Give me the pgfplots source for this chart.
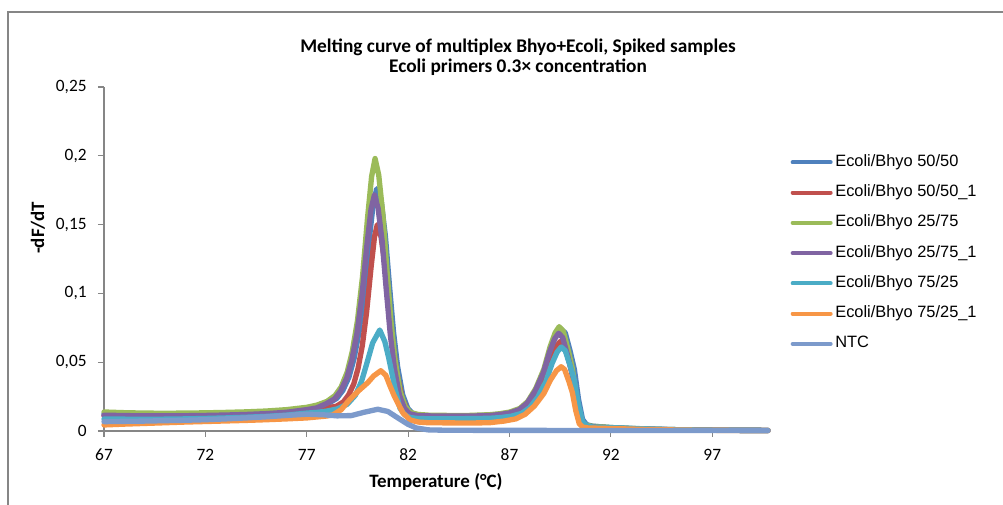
\documentclass[border=0pt]{standalone}
\usepackage{fontspec}
\setmainfont{Carlito}
\newfontfamily\legfont{Liberation Sans}
\usepackage{pgfplots}
\pgfplotsset{compat=1.18}

\definecolor{sblue}{HTML}{4F81BD}
\definecolor{sred}{HTML}{C0504D}
\definecolor{sgreen}{HTML}{9BBB59}
\definecolor{spurple}{HTML}{8064A2}
\definecolor{scyan}{HTML}{4BACC6}
\definecolor{sorange}{HTML}{F79646}
\definecolor{sntc}{HTML}{7C9ACB}
\definecolor{axisgray}{HTML}{868686}

\begin{document}
\begin{tikzpicture}
\useasboundingbox (0,0) rectangle (752.25pt,378.75pt);
\draw[axisgray, line width=0.9pt] (6pt,0pt) -- (6pt,369.75pt) -- (752.25pt,369.75pt);
\begin{axis}[
    at={(78pt,55.5pt)}, anchor=south west,
    scale only axis, width=498pt, height=258pt,
    xmin=67, xmax=99.75, ymin=0, ymax=0.25,
    xtick={67,72,77,82,87,92,97},
    ytick={0,0.05,0.1,0.15,0.2,0.25},
    axis lines*=left,
    axis line style={axisgray, line width=0.9pt},
    tick style={axisgray, line width=0.9pt},
    tick align=outside, major tick length=4.5pt,
    /pgf/number format/assume math mode=true,
    /pgf/number format/use comma,
    /pgf/number format/fixed,
    /pgf/number format/precision=2,
    tick label style={font=\fontsize{13}{15}\selectfont},
    yticklabel style={xshift=-5pt},
    xticklabel style={yshift=-5.5pt},
    clip=false,
    every axis title shift=0pt,
    title={Melting curve of multiplex Bhyo+Ecoli, Spiked samples\\Ecoli primers 0.3× concentration},
    title style={font=\bfseries\fontsize{14.5}{15}\selectfont, align=center,
        at={(axis description cs:0.6235,1.087)}, anchor=center},
    xlabel={Temperature (°C)},
    xlabel style={font=\bfseries\fontsize{14.2}{15}\selectfont,
        at={(axis description cs:0.5,-0.148)}, anchor=center},
    ylabel={-dF/dT},
    ylabel style={font=\bfseries\fontsize{14.2}{15}\selectfont,
        at={(axis description cs:-0.0994,0.59)}, anchor=center},
    every axis plot/.append style={line width=4pt, line join=round, line cap=round},
    legend style={at={(axis description cs:1.0337,0.809)}, anchor=north west,
        draw=none, fill=none, inner sep=0pt, row sep=8.7pt, column sep=1pt,
        font=\legfont\fontsize{12.3}{14}\selectfont,
        nodes={inner sep=1pt, text height=9pt, text depth=3pt}},
    legend cell align=left,
    legend image code/.code={\draw[#1, line width=3pt] (0pt,0pt) -- (28.5pt,0pt);},
]
% Ecoli/Bhyo 50/50
\addplot[sblue] coordinates {
(67,0.0125)(68,0.012)(69,0.0118)(70,0.0117)(71,0.0118)(72,0.012)(73,0.0123)(74,0.0127)(75,0.0133)(76,0.0143)(77,0.0160)(77.5,0.0172)(78.08,0.0202)(78.48,0.0237)(78.78,0.0295)(79.08,0.0391)(79.33,0.0525)(79.58,0.072)(79.83,0.1005)(80.08,0.1388)(80.28,0.1653)(80.45,0.176)(80.68,0.166)(80.88,0.1414)(81.08,0.1055)(81.28,0.0718)(81.48,0.0468)(81.73,0.0264)(81.98,0.0166)(82.23,0.0125)(82.63,0.0112)(83.5,0.011)(85,0.011)(86,0.0115)(86.55,0.0122)(87.05,0.0134)(87.55,0.0159)(87.95,0.021)(88.35,0.0304)(88.75,0.0443)(89.05,0.06)(89.3,0.0701)(89.5,0.0745)(89.75,0.0713)(90,0.0575)(90.2,0.0447)(90.4,0.0234)(90.6,0.0085)(90.8,0.0046)(91.1,0.0035)(92,0.0025)(93,0.0018)(94,0.0013)(95,0.001)(96,0.0008)(97,0.0006)(98,0.0005)(99.75,0.0004)
};
\addlegendentry{Ecoli/Bhyo 50/50}
% Ecoli/Bhyo 50/50_1
\addplot[sred] coordinates {
(67,0.011)(68,0.0107)(69,0.0105)(70,0.0105)(71,0.0106)(72,0.0108)(73,0.0111)(74,0.0115)(75,0.0121)(76,0.0131)(77,0.0147)(77.5,0.0156)(78,0.0167)(78.48,0.0181)(78.81,0.0212)(79.06,0.0261)(79.32,0.0342)(79.53,0.0455)(79.74,0.062)(79.95,0.0862)(80.17,0.1186)(80.34,0.141)(80.48,0.15)(80.66,0.1415)(80.86,0.1208)(81.06,0.0904)(81.26,0.0619)(81.46,0.0408)(81.71,0.0235)(81.96,0.0151)(82.21,0.0116)(82.61,0.0106)(83.5,0.0103)(85,0.0103)(86,0.0107)(86.55,0.0113)(87.05,0.0123)(87.55,0.0145)(87.95,0.0188)(88.35,0.027)(88.75,0.0389)(89.05,0.0525)(89.3,0.0612)(89.5,0.065)(89.7,0.0622)(89.95,0.0501)(90.15,0.039)(90.35,0.0204)(90.55,0.0073)(90.75,0.0039)(91.05,0.003)(92,0.0022)(93,0.0016)(94,0.0012)(95,0.0009)(96,0.0007)(97,0.0006)(98,0.0005)(99.75,0.0004)
};
\addlegendentry{Ecoli/Bhyo 50/50\_1}
% Ecoli/Bhyo 25/75
\addplot[sgreen] coordinates {
(67,0.0138)(68,0.0133)(69,0.013)(70,0.0129)(71,0.013)(72,0.0132)(73,0.0135)(74,0.0139)(75,0.0145)(76,0.0155)(77,0.0172)(77.5,0.0188)(78,0.0215)(78.4,0.0258)(78.7,0.032)(79,0.043)(79.25,0.058)(79.5,0.08)(79.75,0.112)(80,0.155)(80.2,0.185)(80.37,0.198)(80.55,0.186)(80.75,0.158)(80.95,0.118)(81.15,0.08)(81.35,0.052)(81.6,0.029)(81.85,0.018)(82.1,0.0135)(82.5,0.012)(83,0.0115)(84,0.0113)(85,0.0113)(86,0.0118)(86.5,0.0125)(87,0.0137)(87.5,0.0163)(87.9,0.0214)(88.3,0.031)(88.7,0.0451)(89,0.0611)(89.25,0.0713)(89.45,0.0758)(89.65,0.0726)(89.9,0.0585)(90.1,0.0454)(90.3,0.0237)(90.5,0.0086)(90.7,0.0046)(91,0.0035)(92,0.0025)(93,0.0018)(94,0.0013)(95,0.001)(96,0.0008)(97,0.0006)(98,0.0005)(99.75,0.0004)
};
\addlegendentry{Ecoli/Bhyo 25/75}
% Ecoli/Bhyo 25/75_1
\addplot[spurple] coordinates {
(67,0.0115)(68,0.0112)(69,0.011)(70,0.011)(71,0.0111)(72,0.0113)(73,0.0116)(74,0.012)(75,0.0126)(76,0.0136)(77,0.0155)(77.5,0.0168)(77.97,0.0199)(78.37,0.0233)(78.67,0.029)(78.97,0.0384)(79.22,0.0513)(79.47,0.0703)(79.72,0.0981)(79.97,0.1353)(80.17,0.1611)(80.34,0.1715)(80.52,0.1618)(80.72,0.1378)(80.92,0.103)(81.12,0.0702)(81.32,0.0459)(81.57,0.026)(81.82,0.0165)(82.07,0.0125)(82.47,0.0112)(83.5,0.0108)(85,0.0108)(86,0.0112)(86.47,0.0119)(86.97,0.013)(87.47,0.0154)(87.87,0.0202)(88.27,0.0291)(88.67,0.0423)(88.97,0.0572)(89.22,0.0668)(89.42,0.071)(89.62,0.068)(89.87,0.0547)(90.07,0.0424)(90.27,0.022)(90.47,0.0078)(90.67,0.004)(90.97,0.003)(92,0.0022)(93,0.0016)(94,0.0012)(95,0.0009)(96,0.0007)(97,0.0006)(98,0.0005)(99.75,0.0004)
};
\addlegendentry{Ecoli/Bhyo 25/75\_1}
% Ecoli/Bhyo 75/25
\addplot[scyan] coordinates {
(67,0.0087)(68,0.0086)(69,0.0085)(70,0.0086)(71,0.0088)(72,0.0091)(73,0.0095)(74,0.01)(75,0.0106)(76,0.0115)(77,0.013)(77.5,0.0135)(78,0.0145)(78.5,0.016)(79,0.0195)(79.4,0.026)(79.7,0.036)(79.96,0.049)(80.25,0.064)(80.6,0.0734)(80.85,0.065)(81.03,0.054)(81.2,0.042)(81.35,0.031)(81.6,0.0165)(81.85,0.0115)(82.1,0.0098)(82.5,0.009)(84,0.0088)(86,0.0092)(86.6,0.0098)(87.1,0.0108)(87.6,0.0128)(88,0.017)(88.4,0.0247)(88.8,0.0361)(89.1,0.0491)(89.35,0.0574)(89.55,0.061)(89.75,0.0584)(90,0.047)(90.2,0.0366)(90.4,0.0191)(90.6,0.0069)(90.8,0.0037)(91.1,0.0028)(92,0.0024)(93,0.0019)(94,0.0014)(95,0.001)(96,0.0008)(97,0.0006)(98,0.0005)(99.75,0.0004)
};
\addlegendentry{Ecoli/Bhyo 75/25}
% Ecoli/Bhyo 75/25_1
\addplot[sorange] coordinates {
(67,0.0044)(68,0.005)(69,0.0055)(70,0.006)(71,0.0065)(72,0.0069)(73,0.0073)(74,0.0077)(75,0.0082)(76,0.0088)(77,0.0095)(77.5,0.0102)(78,0.0109)(78.3,0.0118)(78.7,0.0155)(79.1,0.0225)(79.6,0.0298)(80,0.035)(80.3,0.04)(80.65,0.0438)(80.9,0.0405)(81.1,0.033)(81.3,0.026)(81.45,0.0215)(81.75,0.013)(82.1,0.008)(82.5,0.0065)(83,0.006)(85,0.0058)(86,0.006)(86.73,0.0072)(87.31,0.0088)(87.77,0.0121)(88.23,0.0182)(88.69,0.0272)(89.03,0.0373)(89.32,0.0439)(89.55,0.0467)(89.72,0.0447)(89.93,0.036)(90.1,0.028)(90.27,0.0147)(90.44,0.0053)(90.61,0.0029)(90.87,0.0022)(92,0.0018)(93,0.0014)(94,0.001)(95,0.0008)(96,0.0006)(97,0.0005)(98,0.0004)(99.75,0.0003)
};
\addlegendentry{Ecoli/Bhyo 75/25\_1}
% NTC
\addplot[sntc] coordinates {
(67,0.0068)(68,0.007)(69,0.0072)(70,0.0075)(71,0.0078)(72,0.0082)(73,0.0088)(74,0.0095)(75,0.0103)(76,0.0113)(77,0.0122)(77.8,0.0118)(78.5,0.011)(79.2,0.0112)(79.8,0.0135)(80.5,0.0158)(81,0.0142)(81.6,0.0085)(82,0.0048)(82.4,0.0022)(83,0.0008)(84,0.0005)(90,0.0004)(99.75,0.0003)
};
\addlegendentry{NTC}
\end{axis}
\end{tikzpicture}
\end{document}
